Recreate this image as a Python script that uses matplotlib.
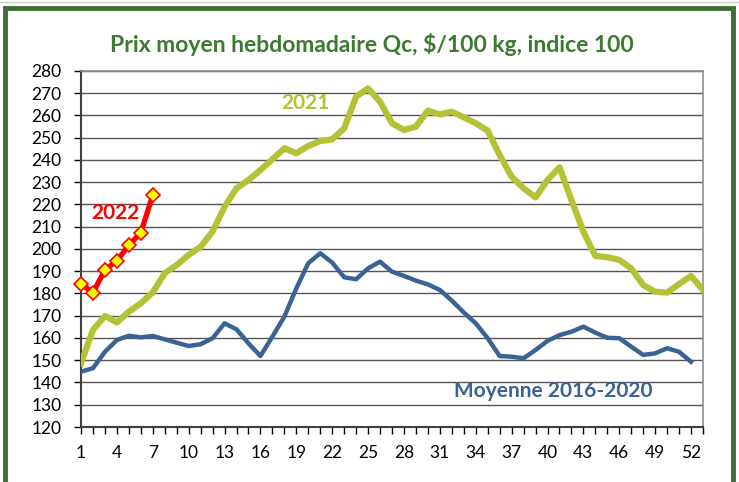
import numpy as np
import matplotlib.pyplot as plt
from matplotlib.patches import Rectangle

plt.rcParams['font.family'] = ['Lato', 'DejaVu Sans']

# Weekly average price, Quebec ($/100 kg, index 100)
weeks_2021 = list(range(1, 54))
prix_2021 = [148.6, 163.6, 169.9, 167.0, 171.8, 175.6, 180.5, 189.1, 192.8, 197.3,
             201.0, 207.8, 219.0, 227.3, 231.0, 235.5, 240.3, 245.3, 243.0, 246.3,
             248.5, 249.3, 254.2, 268.5, 272.2, 266.2, 256.5, 253.5, 255.0, 262.2,
             260.5, 261.7, 259.2, 256.5, 253.2, 242.2, 232.5, 227.3, 223.2, 231.0,
             236.7, 222.0, 207.8, 196.9, 196.3, 195.1, 191.3, 183.8, 180.8, 180.4,
             184.3, 187.9, 181.6]

weeks_moy = list(range(1, 53))
prix_moy = [144.9, 146.4, 153.8, 159.1, 161.0, 160.3, 160.9, 159.4, 157.9, 156.4,
            157.2, 159.9, 166.6, 163.9, 157.6, 151.9, 160.6, 169.6, 182.3, 193.6,
            198.1, 193.9, 187.3, 186.4, 191.3, 194.3, 189.8, 187.9, 185.8, 184.1,
            181.6, 176.8, 171.5, 166.6, 159.9, 151.9, 151.6, 150.9, 154.6, 158.7,
            161.3, 162.8, 165.1, 162.4, 160.1, 159.9, 156.1, 152.4, 153.1, 155.4,
            153.8, 149.3]

weeks_2022 = [1, 2, 3, 4, 5, 6, 7]
prix_2022 = [184.3, 180.4, 190.6, 194.7, 201.7, 207.3, 224.3]

x_labels = list(range(1, 53, 3))
y_ticks = list(range(120, 281, 10))

green = '#B4C236'
blue = '#3A6395'
red = '#FF0000'
title_green = '#3B7A2F'

fig = plt.figure(figsize=(7.39, 4.82), dpi=100)
ax = fig.add_axes([81 / 739, 1 - 427 / 482, (703 - 81) / 739, (427 - 71) / 482])

# outer frame
fig.patches.append(Rectangle((5 / 739, -0.02), 728 / 739, 1 - 8 / 482 + 0.02,
                             transform=fig.transFigure, fill=False,
                             edgecolor='#3D6E33', linewidth=3.5))
fig.patches.append(Rectangle((0, 1 - 2 / 482), 1, 0, transform=fig.transFigure,
                             fill=False, edgecolor='#C8D0C8', linewidth=1))

for y in y_ticks[1:]:
    ax.axhline(y, color='#555555', linewidth=1, zorder=1)

ax.plot(weeks_2021, prix_2021, color=green, linewidth=4.5, zorder=3)
ax.plot(weeks_moy, prix_moy, color=blue, linewidth=3.2, zorder=3)
ax.plot(weeks_2022, prix_2022, color=red, linewidth=3.8, zorder=4,
        marker='D', markersize=7, markerfacecolor='#FFFF00',
        markeredgecolor=red, markeredgewidth=1.2, clip_on=False)

ax.text(19.8, 265.6, '2021', color=green, fontsize=15, fontweight='bold',
        ha='center', va='center')
ax.text(3.9, 216.4, '2022', color=red, fontsize=15, fontweight='bold',
        ha='center', va='center')
ax.text(40.5, 136.2, 'Moyenne 2016-2020', color=blue, fontsize=15,
        fontweight='bold', ha='center', va='center')

fig.text(372 / 739, 1 - 44 / 482, 'Prix moyen hebdomadaire Qc, $/100 kg, indice 100',
         color=title_green, fontsize=16.5, fontweight='bold', ha='center', va='center')

ax.set_xlim(1, 53)
ax.set_ylim(120, 280)
ax.set_xticks(range(1, 54), minor=True)
ax.set_xticks(x_labels)
ax.set_xticklabels([str(v) for v in x_labels])
ax.set_yticks(y_ticks)
ax.tick_params(axis='both', labelsize=12.5, colors='#000000', length=5, width=1,
               direction='out')
ax.tick_params(axis='x', which='minor', length=5, width=1)
ax.tick_params(axis='x', pad=8)
ax.tick_params(axis='y', pad=9)

for side in ['left', 'bottom']:
    ax.spines[side].set_color('#404040')
    ax.spines[side].set_linewidth(1.5)
for side in ['right', 'top']:
    ax.spines[side].set_color('#909090')
    ax.spines[side].set_linewidth(1.2)

fig.savefig('out.png', dpi=100)
